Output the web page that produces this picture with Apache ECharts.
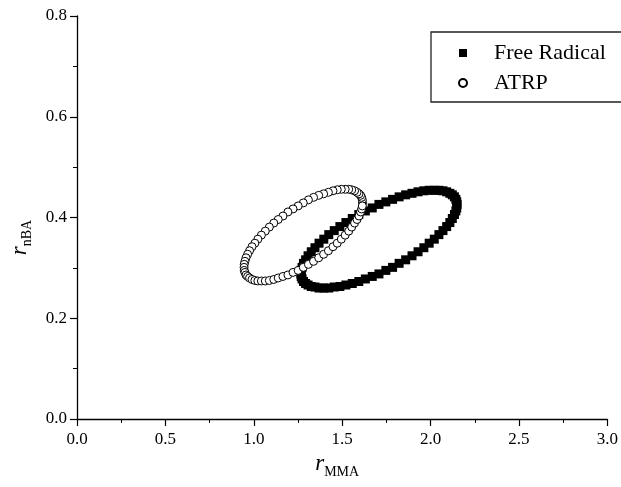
<!DOCTYPE html>
<html>
<head>
<meta charset="utf-8">
<script src="https://cdn.jsdelivr.net/npm/echarts@6/dist/echarts.min.js"></script>
<style>
  html, body { margin: 0; padding: 0; background: #fff; }
  #chart { width: 621px; height: 487px; }
</style>
</head>
<body>
<div id="chart"></div>
<script>
// Reactivity-ratio confidence contours (r_MMA, r_nBA)
const seriesNames = ['Free Radical', 'ATRP'];

const xTicks = [0.0, 0.5, 1.0, 1.5, 2.0, 2.5, 3.0];
const yTicks = [0.0, 0.2, 0.4, 0.6, 0.8];

// Free radical contour
const freeRadicalX = [
  2.150, 2.148, 2.143, 2.135, 2.123, 2.109, 2.091, 2.070, 2.047, 2.021, 1.992, 1.962,
  1.929, 1.895, 1.859, 1.822, 1.785, 1.747, 1.708, 1.670, 1.631, 1.594, 1.557, 1.521,
  1.487, 1.455, 1.424, 1.396, 1.369, 1.346, 1.325, 1.307, 1.293, 1.281, 1.273, 1.268,
  1.266, 1.268, 1.273, 1.281, 1.293, 1.307, 1.325, 1.346, 1.369, 1.396, 1.424, 1.455,
  1.487, 1.521, 1.557, 1.594, 1.631, 1.670, 1.708, 1.747, 1.785, 1.822, 1.859, 1.895,
  1.929, 1.962, 1.992, 2.021, 2.047, 2.070, 2.091, 2.109, 2.123, 2.135, 2.143, 2.148
];
const freeRadicalY = [
  0.426, 0.431, 0.436, 0.441, 0.445, 0.448, 0.451, 0.453, 0.454, 0.454, 0.454, 0.453,
  0.451, 0.448, 0.445, 0.441, 0.436, 0.431, 0.426, 0.419, 0.413, 0.406, 0.398, 0.390,
  0.382, 0.374, 0.366, 0.357, 0.349, 0.340, 0.332, 0.324, 0.316, 0.309, 0.301, 0.295,
  0.288, 0.283, 0.278, 0.273, 0.269, 0.266, 0.263, 0.262, 0.260, 0.260, 0.260, 0.262,
  0.263, 0.266, 0.269, 0.273, 0.278, 0.283, 0.288, 0.295, 0.301, 0.309, 0.316, 0.324,
  0.332, 0.340, 0.349, 0.357, 0.366, 0.374, 0.382, 0.390, 0.398, 0.406, 0.413, 0.419
];

// ATRP contour
const atrpX = [
  1.615, 1.614, 1.610, 1.604, 1.595, 1.584, 1.570, 1.554, 1.537, 1.517, 1.495, 1.472,
  1.448, 1.422, 1.395, 1.367, 1.338, 1.309, 1.280, 1.251, 1.222, 1.193, 1.165, 1.138,
  1.113, 1.088, 1.065, 1.043, 1.023, 1.006, 0.990, 0.976, 0.965, 0.956, 0.950, 0.946,
  0.945, 0.946, 0.950, 0.956, 0.965, 0.976, 0.990, 1.006, 1.023, 1.043, 1.065, 1.088,
  1.113, 1.138, 1.165, 1.193, 1.222, 1.251, 1.280, 1.309, 1.338, 1.367, 1.395, 1.422,
  1.448, 1.472, 1.495, 1.517, 1.537, 1.554, 1.570, 1.584, 1.595, 1.604, 1.610, 1.614
];
const atrpY = [
  0.429, 0.435, 0.440, 0.444, 0.447, 0.450, 0.453, 0.455, 0.456, 0.456, 0.456, 0.455,
  0.453, 0.450, 0.447, 0.444, 0.440, 0.435, 0.429, 0.423, 0.417, 0.411, 0.403, 0.396,
  0.389, 0.381, 0.373, 0.365, 0.357, 0.349, 0.342, 0.334, 0.327, 0.320, 0.313, 0.307,
  0.301, 0.295, 0.291, 0.286, 0.283, 0.280, 0.277, 0.275, 0.274, 0.274, 0.274, 0.275,
  0.277, 0.280, 0.283, 0.286, 0.291, 0.295, 0.301, 0.307, 0.313, 0.320, 0.327, 0.334,
  0.342, 0.349, 0.357, 0.365, 0.373, 0.381, 0.389, 0.396, 0.403, 0.411, 0.417, 0.423
];

const SERIF = '"Liberation Serif", "DejaVu Serif", serif';

function pairs(xs, ys) {
  return xs.map((x, i) => [x, ys[i]]);
}

const chart = echarts.init(document.getElementById('chart'), null, { renderer: 'canvas' });

const nameRich = {
  i: { fontFamily: SERIF, fontStyle: 'italic', fontSize: 23, color: '#000', verticalAlign: 'bottom', lineHeight: 24 },
  s: { fontFamily: SERIF, fontSize: 14, color: '#000', verticalAlign: 'bottom', lineHeight: 16, padding: [0, 0, -3, 0] }
};

const axisCommon = {
  type: 'value',
  axisLine: { show: true, lineStyle: { color: '#000', width: 1.3 } },
  axisTick: { show: true, inside: false, length: 7, lineStyle: { color: '#000', width: 1.2 } },
  minorTick: { show: true, splitNumber: 2, length: 4, lineStyle: { color: '#000', width: 1 } },
  splitLine: { show: false },
  axisLabel: {
    color: '#000',
    fontFamily: SERIF,
    fontSize: 17,
    formatter: v => v.toFixed(1)
  }
};

chart.setOption({
  backgroundColor: '#fff',
  animation: false,
  grid: { left: 77, right: 11, top: 16, bottom: 68, containLabel: false },
  xAxis: Object.assign({}, axisCommon, {
    min: xTicks[0],
    max: xTicks[xTicks.length - 1],
    interval: xTicks[1] - xTicks[0],
    axisLabel: Object.assign({}, axisCommon.axisLabel, { margin: 12 }),
    name: '{i|r}{s|MMA}',
    nameLocation: 'middle',
    nameGap: 27,
    nameTextStyle: { padding: [0, 10, 0, 0], rich: nameRich }
  }),
  yAxis: Object.assign({}, axisCommon, {
    min: yTicks[0],
    max: yTicks[yTicks.length - 1],
    interval: yTicks[1] - yTicks[0],
    axisLabel: Object.assign({}, axisCommon.axisLabel, { margin: 10 }),
    name: '{i|r}{s|nBA}',
    nameLocation: 'middle',
    nameRotate: 90,
    nameGap: 46,
    nameTextStyle: { padding: [0, 40, 0, 0], rich: nameRich }
  }),
  legend: {
    orient: 'vertical',
    left: 431,
    top: 32,
    data: [
      { name: seriesNames[0], icon: 'rect' },
      { name: seriesNames[1], icon: 'circle' }
    ],
    itemWidth: 8,
    itemHeight: 8,
    itemGap: 8,
    padding: [10, 40, 8, 27],
    borderColor: '#222',
    borderWidth: 1.3,
    borderRadius: 0,
    backgroundColor: '#fff',
    textStyle: {
      fontFamily: SERIF,
      fontSize: 22,
      color: '#000',
      padding: [0, 0, 0, 22]
    }
  },
  series: [
    {
      name: seriesNames[0],
      type: 'scatter',
      symbol: 'rect',
      symbolSize: 9,
      data: pairs(freeRadicalX, freeRadicalY),
      itemStyle: { color: '#000', opacity: 1 },
      emphasis: { disabled: true },
      z: 2
    },
    {
      name: seriesNames[1],
      type: 'scatter',
      symbol: 'circle',
      symbolSize: 8,
      data: pairs(atrpX, atrpY),
      itemStyle: { color: '#fff', borderColor: '#000', borderWidth: 1, opacity: 1 },
      emphasis: { disabled: true },
      z: 3
    }
  ]
});
</script>
</body>
</html>
